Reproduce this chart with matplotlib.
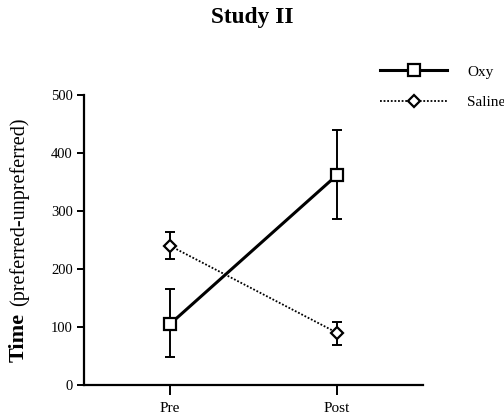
import numpy as np
import matplotlib
matplotlib.use('Agg')
import matplotlib.pyplot as plt

# data
phases = ['Pre', 'Post']
oxy_mean = [105, 362]
oxy_hi = [166, 440]
oxy_lo = [48, 286]
sal_mean = [240, 90]
sal_hi = [264, 109]
sal_lo = [217, 69]

plt.rcParams['font.family'] = ['Liberation Serif', 'DejaVu Serif']

x = np.arange(len(phases))
oxy_err = [np.array(oxy_mean) - np.array(oxy_lo), np.array(oxy_hi) - np.array(oxy_mean)]
sal_err = [np.array(sal_mean) - np.array(sal_lo), np.array(sal_hi) - np.array(sal_mean)]

fig = plt.figure(figsize=(5.04, 4.19), dpi=100)
ax = fig.add_axes([84/504, 1 - 385/419, (423 - 84)/504, (385 - 95)/419])

# error bars first, then lines with markers on top
ax.errorbar(x, oxy_mean, yerr=oxy_err, fmt='none', ecolor='black', elinewidth=1.4,
            capsize=3.8, capthick=1.4, zorder=2)
ax.errorbar(x, sal_mean, yerr=sal_err, fmt='none', ecolor='black', elinewidth=1.4,
            capsize=3.8, capthick=1.4, zorder=2)
ax.plot(x, oxy_mean, color='black', lw=2.2, ls='-', marker='s', ms=8.5,
        mfc='white', mec='black', mew=1.6, label='Oxy', zorder=3)
ax.plot(x, sal_mean, color='black', lw=1.3, ls=(0, (1, 1)), marker='D', ms=6,
        mfc='white', mec='black', mew=1.6, label='Saline', zorder=3)

ax.set_xlim(-0.515, 1.515)
ax.set_ylim(0, 500)
ax.set_yticks([0, 100, 200, 300, 400, 500])
ax.set_xticks(x)
ax.set_xticklabels(phases)

for s in ['top', 'right']:
    ax.spines[s].set_visible(False)
for s in ['left', 'bottom']:
    ax.spines[s].set_linewidth(1.6)
ax.tick_params(axis='both', direction='out', width=1.4, labelsize=10.5)
ax.tick_params(axis='y', length=5, pad=3)
ax.tick_params(axis='x', length=7, pad=5, labelsize=11)

# title and y label (mixed bold / regular)
fig.text(0.5, 1 - 17/419, 'Study II', ha='center', va='center',
         fontsize=16.8, fontweight='bold')
fig.text(19/504, 1 - 362/419, 'Time', rotation=90, ha='center', va='bottom',
         fontsize=16, fontweight='bold')
fig.text(19/504, 1 - 306/419, '(preferred-unpreferred)', rotation=90,
         ha='center', va='bottom', fontsize=14.5)

fig.legend(loc='upper left', bbox_to_anchor=(380/504, 1 - 65/419), frameon=False,
           fontsize=11, handlelength=4.4, handletextpad=1.3, labelspacing=1.1,
           borderpad=0, borderaxespad=0)

fig.savefig('out.png', dpi=100)
